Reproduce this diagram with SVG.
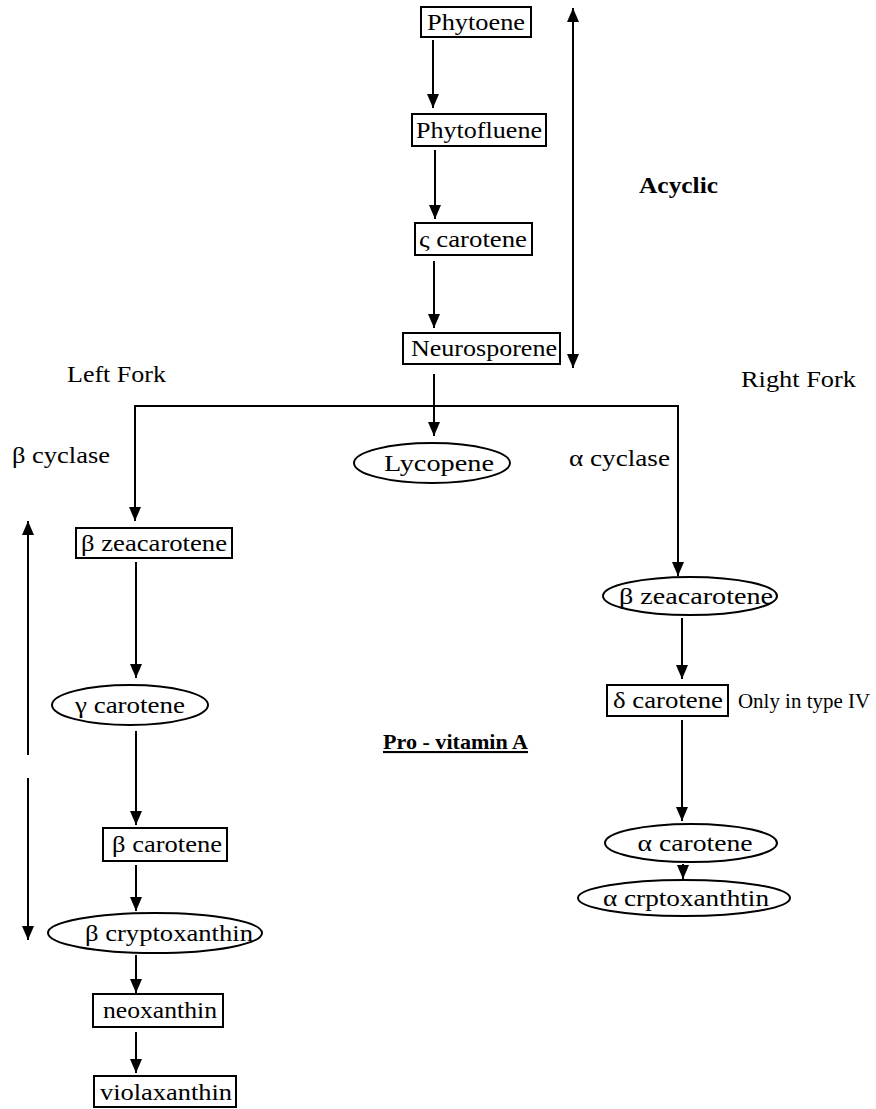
<svg xmlns="http://www.w3.org/2000/svg" width="876" height="1109" viewBox="0 0 876 1109">
<defs>
<style>
.t{font-family:"Liberation Serif","Times New Roman",serif;font-size:24px;fill:#000}
.b{font-weight:bold}
.box{fill:#fff;stroke:#000;stroke-width:2}
.c{stroke:#000;stroke-width:2;fill:none}
</style>
<marker id="ah" viewBox="0 0 14 12" refX="14" refY="6" markerWidth="14" markerHeight="12" markerUnits="userSpaceOnUse" orient="auto-start-reverse">
<path d="M0,0 L14,6 L0,12 z" fill="#000"/>
</marker>
</defs>
<rect width="876" height="1109" fill="#fff"/>

<g id="connectors">
<line class="c" x1="433" y1="40" x2="433" y2="108" marker-end="url(#ah)"/>
<line class="c" x1="435" y1="150" x2="435" y2="219" marker-end="url(#ah)"/>
<line class="c" x1="434" y1="261" x2="434" y2="328" marker-end="url(#ah)"/>
<line class="c" x1="434" y1="374" x2="434" y2="436" marker-end="url(#ah)"/>
<polyline class="c" points="135,521 135,406 678,406 678,576" marker-start="url(#ah)" marker-end="url(#ah)"/>
<line class="c" x1="573" y1="8" x2="573" y2="368" marker-start="url(#ah)" marker-end="url(#ah)"/>
<line class="c" x1="136" y1="562" x2="136" y2="678" marker-end="url(#ah)"/>
<line class="c" x1="136" y1="731" x2="136" y2="825" marker-end="url(#ah)"/>
<line class="c" x1="136" y1="865" x2="136" y2="911" marker-end="url(#ah)"/>
<line class="c" x1="136" y1="955" x2="136" y2="993" marker-end="url(#ah)"/>
<line class="c" x1="136" y1="1032" x2="136" y2="1073" marker-end="url(#ah)"/>
<line class="c" x1="682" y1="618" x2="682" y2="679" marker-end="url(#ah)"/>
<line class="c" x1="682" y1="720" x2="682" y2="821" marker-end="url(#ah)"/>
<line class="c" x1="683" y1="864" x2="683" y2="879" marker-end="url(#ah)"/>
<line class="c" x1="28" y1="521" x2="28" y2="755" marker-start="url(#ah)"/>
<line class="c" x1="28" y1="778" x2="28" y2="940" marker-end="url(#ah)"/>
</g>

<g id="n-phytoene"><rect class="box" x="421" y="7" width="110" height="30"/><text class="t" x="476" y="30" text-anchor="middle" textLength="98" lengthAdjust="spacingAndGlyphs">Phytoene</text></g>
<g id="n-phytofluene"><rect class="box" x="412" y="114" width="134" height="32"/><text class="t" x="479" y="138" text-anchor="middle" textLength="126" lengthAdjust="spacingAndGlyphs">Phytofluene</text></g>
<g id="n-zeta"><rect class="box" x="415" y="223" width="117" height="32"/><text class="t" x="473" y="247" text-anchor="middle" textLength="108" lengthAdjust="spacingAndGlyphs">ς carotene</text></g>
<g id="n-neurosporene"><rect class="box" x="403" y="333" width="157" height="31"/><text class="t" x="484" y="356" text-anchor="middle" textLength="146" lengthAdjust="spacingAndGlyphs">Neurosporene</text></g>
<g id="n-lycopene"><ellipse class="box" cx="432" cy="463" rx="78" ry="20"/><text class="t" x="439" y="471" text-anchor="middle" textLength="110" lengthAdjust="spacingAndGlyphs">Lycopene</text></g>

<g id="n-bzea-left"><rect class="box" x="76" y="528" width="156" height="30"/><text class="t" x="154" y="551" text-anchor="middle" textLength="146" lengthAdjust="spacingAndGlyphs">β zeacarotene</text></g>
<g id="n-gamma"><ellipse class="box" cx="130" cy="705" rx="78" ry="20"/><text class="t" x="130" y="713" text-anchor="middle" textLength="110" lengthAdjust="spacingAndGlyphs">γ carotene</text></g>
<g id="n-bcarotene"><rect class="box" x="103" y="828" width="124" height="33"/><text class="t" x="167" y="852" text-anchor="middle" textLength="110" lengthAdjust="spacingAndGlyphs">β carotene</text></g>
<g id="n-bcrypto"><ellipse class="box" cx="155" cy="933" rx="107" ry="20"/><text class="t" x="169" y="941" text-anchor="middle" textLength="168" lengthAdjust="spacingAndGlyphs">β cryptoxanthin</text></g>
<g id="n-neoxanthin"><rect class="box" x="93" y="994" width="130" height="33"/><text class="t" x="160" y="1018" text-anchor="middle" textLength="114" lengthAdjust="spacingAndGlyphs">neoxanthin</text></g>
<g id="n-violaxanthin"><rect class="box" x="94" y="1076" width="142" height="31"/><text class="t" x="166" y="1100" text-anchor="middle" textLength="132" lengthAdjust="spacingAndGlyphs">violaxanthin</text></g>

<g id="n-bzea-right"><ellipse class="box" cx="690" cy="596" rx="87" ry="19"/><text class="t" x="696" y="604" text-anchor="middle" textLength="154" lengthAdjust="spacingAndGlyphs">β zeacarotene</text></g>
<g id="n-delta"><rect class="box" x="607" y="685" width="121" height="31"/><text class="t" x="668" y="708" text-anchor="middle" textLength="110" lengthAdjust="spacingAndGlyphs">δ carotene</text></g>
<g id="n-acarotene"><ellipse class="box" cx="691" cy="843" rx="86" ry="19"/><text class="t" x="695" y="851" text-anchor="middle" textLength="115" lengthAdjust="spacingAndGlyphs">α carotene</text></g>
<g id="n-acrypto"><ellipse class="box" cx="684" cy="898" rx="106" ry="18"/><text class="t" x="686" y="906" text-anchor="middle" textLength="166" lengthAdjust="spacingAndGlyphs">α crptoxanthtin</text></g>

<g id="labels">
<text class="t b" x="639" y="193" textLength="79" lengthAdjust="spacingAndGlyphs">Acyclic</text>
<text class="t" x="67" y="382" textLength="99" lengthAdjust="spacingAndGlyphs">Left Fork</text>
<text class="t" x="741" y="387" textLength="115" lengthAdjust="spacingAndGlyphs">Right Fork</text>
<text class="t" x="12" y="463" textLength="98" lengthAdjust="spacingAndGlyphs">β cyclase</text>
<text class="t" x="569" y="466" textLength="101" lengthAdjust="spacingAndGlyphs">α cyclase</text>
<text class="t" x="738" y="708" style="font-size:20px" textLength="132" lengthAdjust="spacingAndGlyphs">Only in type IV</text>
<text class="t b" x="383" y="749" style="font-size:21px;text-decoration:underline" textLength="145" lengthAdjust="spacingAndGlyphs">Pro - vitamin A</text>
</g>
</svg>
